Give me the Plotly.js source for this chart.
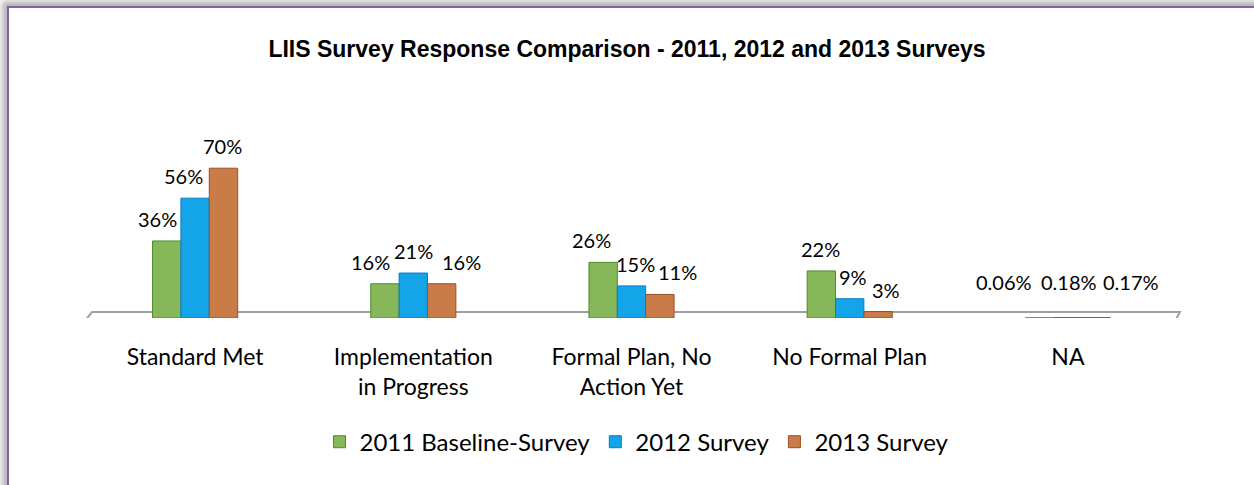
<!DOCTYPE html>
<html>
<head>
<meta charset="utf-8">
<script src="https://cdn.plot.ly/plotly-3.0.1.min.js"></script>
<style>
  html, body { margin: 0; padding: 0; background: #ffffff; overflow: hidden; }
  #frame {
    position: absolute; left: 7px; top: 6px; width: 1300px; height: 600px;
    border-top: 2px solid #8064a2; border-left: 2px solid #8064a2;
    box-shadow: -5px -5px 6px rgba(120,120,120,0.55);
  }
  #chart { position: absolute; left: 0; top: 0; width: 1254px; height: 485px; }
</style>
</head>
<body>
<div id="frame"></div>
<div id="chart"></div>
<script>
// ---- data ----
const categories = ["Standard Met", "Implementation in Progress", "Formal Plan, No Action Yet", "No Formal Plan", "NA"];
const tickLabels = ["Standard Met", "Implementation<br>in Progress", "Formal Plan, No<br>Action Yet", "No Formal Plan", "NA"];
const seriesNames = ["2011 Baseline-Survey", "2012 Survey", "2013 Survey"];
const values2011 = [36, 16, 26, 22, 0.06];
const values2012 = [56, 21, 15, 9, 0.18];
const values2013 = [70, 16, 11, 3, 0.17];

// ---- styles (label placement in pixels, relative to the category centre) ----
const labelShiftX = [
  [-38, -43, -40, -29, -64],
  [-12, 0, 4, 3, 1],
  [27, 48, 46, 36, 63]
];
const labelShiftY = [8, 8, 8, 8, 22];

const colors = ["#86b85a", "#14a4e8", "#c97c48"];
const edge = ["#4d8a2a", "#0a78d0", "#9a4f22"];
const labelFont = "Lato, 'Open Sans', sans-serif";
const allValues = [values2011, values2012, values2013];

function mkTrace(name, vals, i) {
  return {
    type: "bar",
    name: name,
    x: categories,
    y: vals,
    marker: { color: colors[i], line: { color: edge[i], width: 1 } },
    hoverinfo: "x+y+name"
  };
}

const data = seriesNames.map((n, i) => mkTrace(n, allValues[i], i));

const annotations = [];
allValues.forEach((vals, i) => {
  vals.forEach((v, j) => {
    annotations.push({
      x: categories[j], y: v, xref: "x", yref: "y",
      text: v + "%",
      showarrow: false,
      xanchor: "center", yanchor: "bottom",
      xshift: labelShiftX[i][j], yshift: labelShiftY[j],
      font: { family: labelFont, size: 20, color: "#000000" }
    });
  });
});

const layout = {
  width: 1254,
  height: 485,
  paper_bgcolor: "rgba(0,0,0,0)",
  plot_bgcolor: "rgba(0,0,0,0)",
  margin: { l: 86, r: 77, t: 104, b: 167 },
  title: {
    text: "LIIS Survey Response Comparison - 2011, 2012 and 2013 Surveys",
    font: { family: "'Liberation Sans', Arial, sans-serif", size: 23, color: "#000000", weight: "bold" },
    x: 0.5, xanchor: "center", y: 0.9, yanchor: "middle"
  },
  barmode: "group",
  bargap: 0.61,
  bargroupgap: 0,
  showlegend: true,
  legend: {
    orientation: "h",
    x: 0.505, xanchor: "center",
    y: -0.58, yanchor: "middle",
    font: { family: labelFont, size: 24, color: "#000000" },
    itemwidth: 30,
    traceorder: "normal"
  },
  xaxis: {
    type: "category",
    tickvals: categories,
    ticktext: tickLabels,
    tickfont: { family: labelFont, size: 23, color: "#000000" },
    ticks: "outside",
    ticklen: 18,
    tickcolor: "rgba(0,0,0,0)",
    showline: false,
    showgrid: false,
    zeroline: false,
    fixedrange: true
  },
  yaxis: {
    range: [0, 100],
    visible: false,
    showgrid: false,
    zeroline: false,
    fixedrange: true
  },
  annotations: annotations,
  shapes: [
    {
      type: "path",
      xref: "paper", yref: "y",
      path: "M -0.001 -1.4 L 0.9982 -1.4 L 1.0027 2.8 L 0.0055 2.8 Z",
      fillcolor: "#ffffff",
      line: { color: "#a0a0a0", width: 2 },
      layer: "below"
    },
    {
      type: "path",
      xref: "paper", yref: "y",
      path: "M -0.001 -1.4 L 0.9982 -1.4 L 0.9995 -0.4 L 0.0005 -0.4 Z",
      fillcolor: "#c8c8c8",
      line: { color: "#8c8c8c", width: 1 },
      layer: "below"
    }
  ]
};

Plotly.newPlot("chart", data, layout, { displayModeBar: false, staticPlot: true });
</script>
</body>
</html>
